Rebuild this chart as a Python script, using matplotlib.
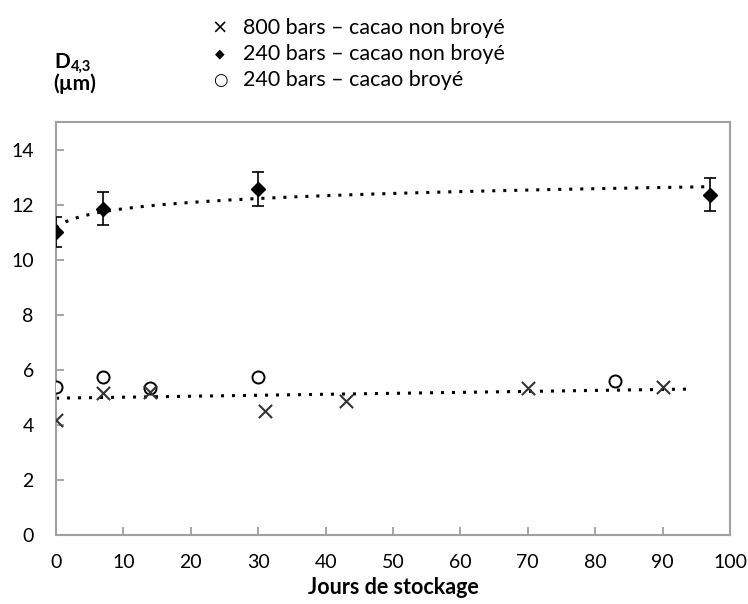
import matplotlib.pyplot as plt
import numpy as np

plt.rcParams["font.family"] = ["Lato", "DejaVu Sans"]

# 800 bars - cacao non broyé
days_800 = [0, 7, 14, 31, 43, 70, 90]
d43_800 = [4.18, 5.15, 5.2, 4.52, 4.85, 5.33, 5.39]

# 240 bars - cacao non broyé (with error bars)
days_240 = [0, 7, 30, 97]
d43_240 = [11.0, 11.85, 12.57, 12.36]
err_240 = [0.55, 0.6, 0.62, 0.6]

# 240 bars - cacao broyé
days_240b = [0, 7, 14, 30, 83]
d43_240b = [5.39, 5.73, 5.33, 5.73, 5.61]

# lower trendline
trend_low_x = [0, 94]
trend_low_y = [4.97, 5.3]

grey = "#a0a0a0"

fig = plt.figure(figsize=(7.48, 6.04), dpi=100)
ax = fig.add_axes([56 / 748, 1 - 535 / 604, 674 / 748, 413 / 604])

# logarithmic trendline for the 240 bars series
a, b = np.polyfit(np.log(np.add(days_240, 2)), d43_240, 1)
xs = np.linspace(0, 97, 200)
ax.plot(xs, a * np.log(xs + 2) + b, color="black", linestyle=(0, (1, 2.6)),
        lw=2.2, zorder=2)
ax.plot(trend_low_x, trend_low_y, color="black", linestyle=(0, (1, 2.6)), lw=2.2,
        zorder=2)

ax.errorbar(days_240, d43_240, yerr=err_240, fmt="D", color="black", ms=7.5,
            capsize=4.5, elinewidth=1.2, capthick=1.2, zorder=4)
ax.scatter(days_240b, d43_240b, marker="o", s=75, facecolor="white",
           edgecolor="black", linewidth=1.4, zorder=3)
ax.scatter(days_800, d43_800, marker="x", s=90, color="#333333", linewidth=1.5,
           zorder=3)

ax.set_xlim(0, 100)
ax.set_ylim(0, 15)
ax.set_xticks(range(0, 101, 10))
ax.set_yticks(range(0, 15, 2))
for s in ax.spines.values():
    s.set_color(grey)
    s.set_linewidth(1.5)
ax.tick_params(direction="in", color=grey, width=1.3, length=6, labelsize=14)
ax.tick_params(axis="x", pad=14)
ax.tick_params(axis="y", pad=16)
ax.set_xlabel("Jours de stockage", fontsize=15.5, fontweight="bold", va="center")
ax.xaxis.set_label_coords(0.5, (535 - 588) / 413)

fig.text(70 / 748, 1 - 62 / 604, "D", fontsize=15, fontweight="bold",
         ha="right", va="center")
fig.text(71 / 748, 1 - 67 / 604, "4,3", fontsize=10.5, fontweight="bold",
         ha="left", va="center")
fig.text(75 / 748, 1 - 84 / 604, "(µm)", fontsize=15, fontweight="bold",
         ha="center", va="center")

legend_items = [
    ("×", "800 bars – cacao non broyé", 14),
    ("◆", "240 bars – cacao non broyé", 9),
    ("○", "240 bars – cacao broyé", 12),
]
for i, (sym, label, fs) in enumerate(legend_items):
    y = 1 - (28 + 26 * i) / 604
    fig.text(220 / 748, y, sym, fontsize=fs, ha="center", va="center",
             family="DejaVu Sans")
    fig.text(243 / 748, y, label, fontsize=15.5, ha="left", va="center")

fig.savefig("out.png", dpi=100)
